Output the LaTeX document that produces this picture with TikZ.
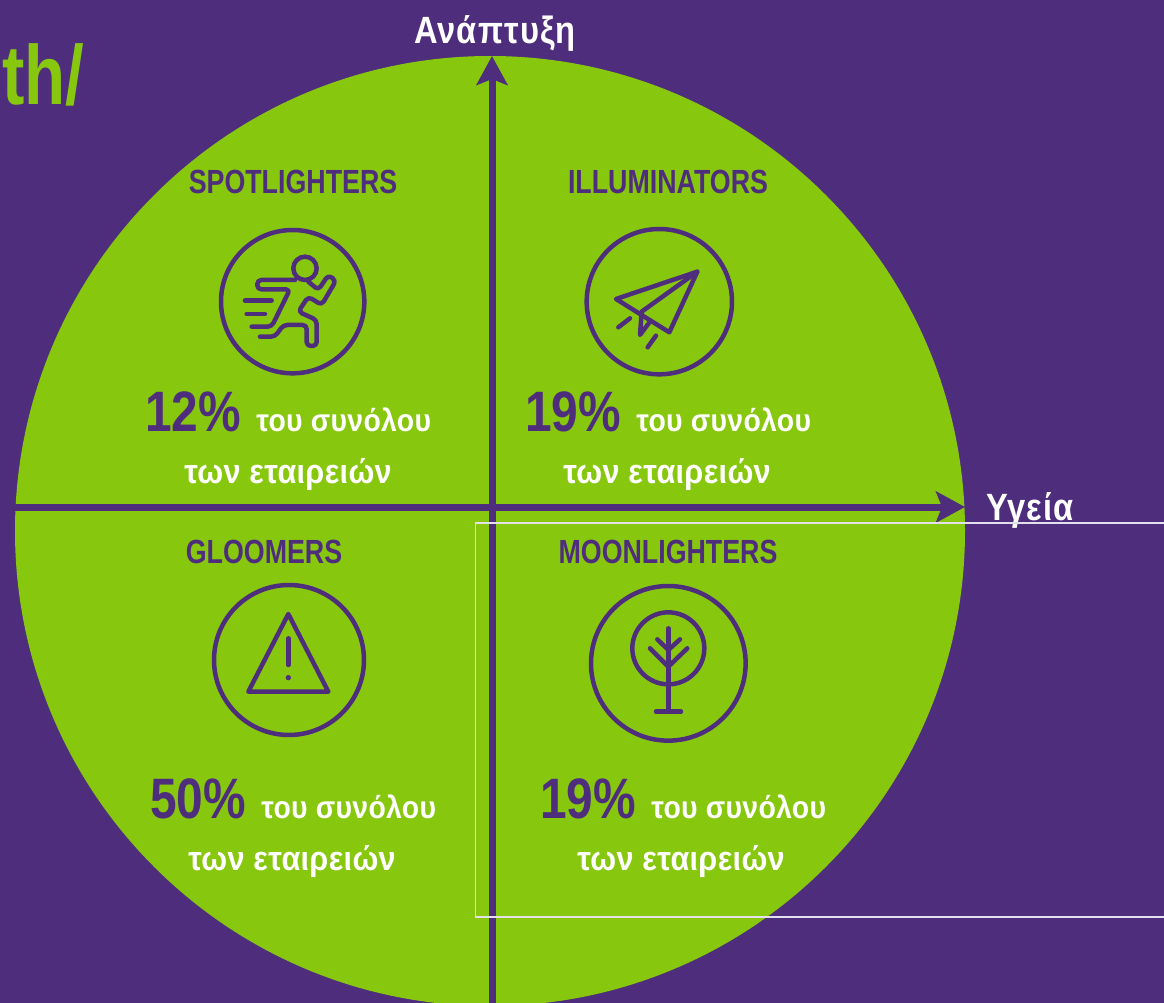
\documentclass[tikz,border=0pt]{standalone}
\usepackage{fontspec}
\setmainfont[FakeStretch=0.8,BoldFont={Liberation Sans Bold}]{Liberation Sans}
\newfontfamily\axisgreek[FakeStretch=0.86,LetterSpace=3]{Liberation Sans Bold}
\newfontfamily\bodygreek[FakeStretch=0.9,LetterSpace=1]{Liberation Sans Bold}
\newfontfamily\pctfont[FakeStretch=0.84]{Liberation Sans Bold}
\usetikzlibrary{arrows.meta}
\definecolor{bgpurple}{RGB}{79,45,125}
\definecolor{leafgreen}{RGB}{135,200,15}
\tikzset{
  axis/.style={draw=bgpurple, line width=7pt, -{Stealth[length=29pt,width=31pt,inset=6pt]}},
  icon/.style={draw=bgpurple, line width=4.5pt, line cap=round, line join=round},
  zone/.style={text=bgpurple, font=\bfseries\fontsize{33.5}{36}\selectfont},
  pct/.style={text=bgpurple, anchor=base west, inner sep=0pt, font=\pctfont\fontsize{57}{60}\selectfont},
  share/.style={text=white, anchor=base west, inner sep=0pt, font=\bodygreek\fontsize{31.5}{32}\selectfont},
  axislabel/.style={text=white, font=\axisgreek\fontsize{38}{40}\selectfont},
  firms/.style={text=white, font=\bodygreek\fontsize{34}{36}\selectfont}
}
\begin{document}
\begin{tikzpicture}[x=1pt, y=-1pt]
  \useasboundingbox (0,0) rectangle (1164,1003);
  \clip (0,0) rectangle (1164,1003);
  \fill[bgpurple] (0,0) rectangle (1164,1003);
  \fill[leafgreen] (490,531) circle (475);

  \node[text=leafgreen, anchor=base west, inner sep=0pt, font=\bfseries\fontsize{84}{86}\selectfont] (cutoff) at (2,105) {th/};

  \coordinate (south) at (492,1003);
  \coordinate (north) at (492,56);
  \coordinate (west) at (15,507);
  \coordinate (east) at (965,507);
  \draw[axis] (south) -- (north);
  \draw[axis] (west) -- (east);
  \node[axislabel] (growth) at (495,33) {Ανάπτυξη};
  \node[axislabel] (health) at (1030,510) {Υγεία};

  \node[zone] (spot) at (293,182) {SPOTLIGHTERS};
  \node[zone] (illum) at (668,182) {ILLUMINATORS};
  \node[zone] (gloom) at (264,552) {GLOOMERS};
  \node[zone] (moon) at (668,552) {MOONLIGHTERS};

  \foreach \name/\x/\y/\val/\cx in {a/145/431/12/288, b/525/431/19/667, c/150/818/50/292, d/540/818/19/681} {
    \node[pct] (pct\name) at (\x,\y) {\val\%};
    \node[share, xshift=15pt] (share\name) at (pct\name.base east) {του συνόλου};
    \node[firms] (firms\name) at (\cx,\y+44) {των εταιρειών};
  }

  \begin{scope}[shift={(180,210)}, x=0.3333pt, y=-0.3333pt]
    \draw[icon] (338,275) circle (215*0.3333pt);
    \draw[icon] (375,175) circle (35*0.3333pt);
    \draw[icon, rounded corners=4pt] (345,210) -- (232,210) -- (232,238) -- (330,238) -- (275,350) -- (215,350);
    \draw[icon, rounded corners=4pt] (240,380) -- (285,380) -- (310,345) -- (380,345) -- (380,408) -- (410,408) -- (410,330) -- (355,305) -- (385,260) -- (425,285) -- (468,212) -- (445,195) -- (415,240) -- (385,215);
    \draw[icon] (195,272) -- (275,272);
    \draw[icon] (200,312) -- (255,312);
  \end{scope}

  \begin{scope}[shift={(570,210)}, x=0.3333pt, y=-0.3333pt]
    \draw[icon] (268,275) circle (218*0.3333pt);
    \draw[icon] (382,185) -- (138,267) -- (298,367) -- cycle;
    \draw[icon] (382,185) -- (215,305) -- (210,375) -- (240,335);
    \draw[icon] (145,352) -- (180,325);
    \draw[icon] (233,412) -- (258,377);
  \end{scope}

  \begin{scope}[shift={(200,570)}, x=0.3333pt, y=-0.3333pt]
    \draw[icon] (267,270) circle (225*0.3333pt);
    \draw[icon] (265,132) -- (145,365) -- (385,365) -- cycle;
    \draw[icon] (265,205) -- (265,285);
    \fill[bgpurple] (265,323) circle (8*0.3333pt);
  \end{scope}

  \begin{scope}[shift={(580,570)}, x=0.3333pt, y=-0.3333pt]
    \draw[icon] (265,280) circle (232*0.3333pt);
    \draw[icon] (265,235) circle (108*0.3333pt);
    \draw[icon] (265,175) -- (265,425);
    \draw[icon] (228,425) -- (303,425);
    \draw[icon] (210,235) -- (265,290) -- (322,235);
    \draw[icon] (232,208) -- (265,240) -- (300,208);
  \end{scope}

  \draw[white!85!bgpurple, line width=1.2pt] (1170,523) -- (475.5,523) -- (475.5,917) -- (1170,917);
\end{tikzpicture}
\end{document}
